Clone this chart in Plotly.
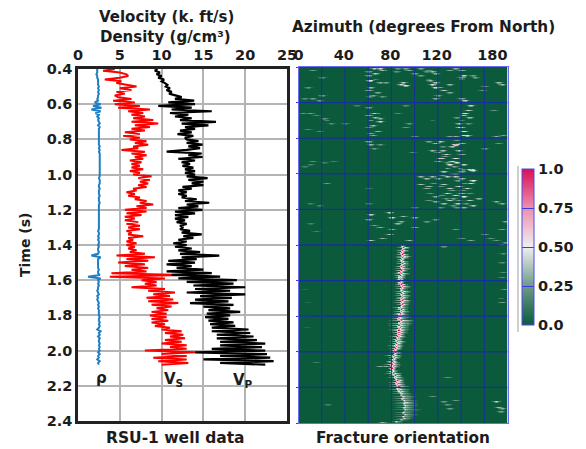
import numpy as np
import plotly.graph_objects as go

W, H = 586, 449
FONT = "'DejaVu Sans', sans-serif"
INK = "#1c1c1c"

# ---- well log samples, one value every 0.01 s from 0.40 s to 2.08 s
log_start, log_step = 0.40, 0.01
vp = [9.5,9.2,9.8,9.4,10.0,9.6,10.3,10.0,10.4,10.7,
      10.5,11.0,10.6,11.2,10.9,11.8,12.4,11.6,13.9,10.8,
      14.0,9.6,13.6,11.2,16.0,11.0,13.2,11.6,13.6,12.2,
      16.5,12.4,15.6,12.8,14.0,12.2,13.6,11.9,13.8,12.8,
      13.0,14.4,13.0,14.9,13.2,14.6,13.0,10.6,14.8,13.2,
      14.9,12.0,14.0,12.4,13.4,12.5,13.8,12.8,14.0,12.8,
      14.0,13.0,15.5,13.2,15.0,13.6,15.0,12.5,13.6,12.0,
      13.0,12.0,13.0,12.4,14.2,12.8,15.7,13.0,14.4,12.0,
      14.9,11.6,14.0,11.6,13.2,11.6,12.8,11.8,13.0,12.2,
      12.6,12.2,13.4,12.4,14.8,12.6,13.8,12.0,13.0,11.4,
      13.0,11.6,13.6,12.0,14.6,12.2,16.9,12.4,14.2,10.8,
      14.0,10.6,13.6,11.8,15.0,10.6,16.0,11.2,17.0,12.0,
      19.0,13.0,18.6,13.8,20.0,14.0,18.2,13.0,20.0,14.6,
      18.4,14.0,18.0,13.4,18.6,15.0,18.2,15.6,19.4,15.4,
      18.2,15.2,18.0,15.6,18.6,15.8,18.8,16.0,20.4,16.0,
      20.6,16.6,21.0,16.6,21.4,17.0,22.4,17.0,22.0,16.0,
      22.4,14.0,22.6,17.0,23.0,15.0,23.4,17.0,22.4]
vs = [4.4,3.0,5.0,5.8,6.0,5.0,3.2,5.2,4.6,5.8,
      7.0,5.0,6.4,4.6,5.6,4.4,4.8,6.4,4.2,6.8,
      4.4,7.4,4.8,8.6,6.0,7.8,6.4,8.0,6.6,9.0,
      6.4,9.6,6.8,8.6,6.4,8.0,5.6,7.4,5.4,7.4,
      6.2,8.2,6.8,8.4,6.6,7.2,5.2,8.0,6.4,8.2,
      6.8,7.8,6.2,7.6,6.4,7.4,6.4,7.8,6.2,7.4,
      6.6,8.8,7.2,8.6,7.4,8.4,7.2,8.2,6.6,7.0,
      5.8,6.8,6.0,7.4,6.8,8.2,7.4,9.0,7.0,8.2,
      5.6,8.2,5.8,7.6,5.6,6.8,5.6,7.2,5.8,7.4,
      6.0,7.4,5.8,6.4,6.0,7.8,6.0,6.6,5.8,7.0,
      5.8,6.8,6.0,7.0,6.2,8.0,4.6,9.2,5.8,8.4,
      4.8,8.0,5.6,8.4,6.4,8.2,4.0,12.4,3.8,10.4,
      7.6,9.4,8.0,9.4,6.4,10.4,8.4,11.6,9.0,11.0,
      8.2,11.4,8.4,12.0,8.8,11.2,9.4,10.8,8.8,10.6,
      8.6,10.6,8.8,10.8,8.8,10.4,9.2,11.0,10.0,12.4,
      10.4,12.6,11.0,12.8,10.4,12.4,10.0,13.0,11.0,13.0,
      8.0,14.0,10.0,13.0,9.0,13.0,9.6,13.2,10.0]
rho = [2.3,2.3,2.3,2.2,2.3,2.3,2.4,2.4,2.4,2.4,
       2.5,2.4,2.5,2.4,2.5,2.4,2.4,2.3,2.4,2.0,
       2.7,1.8,2.8,1.6,2.7,2.1,2.5,2.3,2.5,2.4,
       2.5,2.6,2.4,2.6,2.5,2.5,2.5,2.5,2.5,2.5,
       2.5,2.5,2.5,2.5,2.6,2.5,2.6,2.5,2.6,2.6,
       2.6,2.6,2.6,2.6,2.6,2.6,2.6,2.6,2.6,2.6,
       2.6,2.6,2.5,2.6,2.6,2.6,2.5,2.5,2.6,2.5,
       2.5,2.5,2.6,2.5,2.5,2.5,2.6,2.5,2.5,2.5,
       2.5,2.5,2.5,2.5,2.5,2.5,2.5,2.5,2.5,2.5,
       2.5,2.5,2.4,2.5,2.5,2.4,2.5,2.4,2.5,2.5,
       2.4,2.5,2.4,2.4,2.5,2.4,1.6,2.7,2.4,2.4,
       2.4,2.4,2.4,2.4,2.5,2.4,2.4,2.6,1.2,2.7,
       2.4,2.5,2.4,2.5,2.4,2.4,2.3,2.4,2.5,2.3,
       2.4,2.3,2.4,2.5,2.4,2.5,2.4,2.5,2.5,2.5,
       2.5,2.6,2.5,2.5,2.6,2.5,2.6,2.5,2.3,2.7,
       2.5,2.6,2.4,2.6,2.5,2.5,2.6,2.5,2.6,2.5,
       2.6,2.4,2.6,2.4,2.5,2.3,2.6,2.4,2.5]

# ---- fracture orientation: short bright streaks (azimuth, time, value)
top_left = [(12,.42,.3),(20,.46,.3),(8,.52,.3),(5,.58,.25),(12,.58,.3),(18,.59,.3),(20,.565,.35),
            (4,.66,.3),(10,.66,.35),(15,.67,.25),(22,.69,.3),(24,.70,.35),(8,.75,.25),(18,.76,.25),
            (28,.72,.25),(40,.72,.25),(50,.62,.2),(30,.93,.2),(15,.92,.25),(12,.93,.25),(22,.94,.2),
            (5,.96,.2),(10,.95,.2),(24,1.05,.3),(20,1.1,.3),(10,1.17,.2),(18,1.18,.2),(15,1.32,.2),(10,1.28,.2)]
band_60 = [(65,.41,.5),(70,.41,.6),(72,.42,.45),(60,.43,.4),(66,.44,.5),(60,.45,.45),(66,.47,.4),
           (61,.48,.7),(70,.49,.4),(75,.49,.35),(62,.52,.4),(60,.53,.5),(68,.54,.35),(64,.56,.35),
           (72,.57,.3),(61,.57,.3),(60,.63,.4),(62,.65,.55),(65,.66,.5),(68,.655,.4),(60,.67,.5),
           (66,.68,.45),(70,.69,.4),(62,.70,.5),(70,.71,.55),(64,.73,.45),(60,.74,.35),(68,.76,.4),
           (64,.78,.4),(62,.77,.35),(60,.82,.5),(62,.84,.4),(70,.84,.3),(65,.86,.3),(60,1.08,.2),
           (60,1.17,.25)]
band_90 = [(85,.41,.3),(92,.41,.35),(95,.42,.4),(84,.43,.3),(100,.44,.35),(105,.45,.3),(90,.49,.5),
           (88,.5,.55),(92,.505,.6),(105,.41,.35),(110,.43,.3),(112,.47,.3),(92,.62,.25),(85,.66,.25),
           (95,.72,.3),(92,.74,.3),(100,.79,.3),(115,.70,.25),(98,.88,.25),(100,1.19,.25)]
band_130 = [(112,.42,.3),(115,.43,.45),(118,.44,.4),(113,.48,.45),(118,.49,.5),(115,.5,.6),(118,.52,.6),
            (122,.515,.6),(125,.53,.5),(120,.56,.4),(118,.58,.4),(130,.42,.35),(135,.41,.4),(140,.42,.5),
            (140,.46,.45),(142,.45,.5),(130,.50,.4),(130,.54,.35),(140,.58,.45),(143,.59,.5),(130,.60,.35),
            (140,.47,.4),(152,.46,.35),(150,.45,.35),(158,.53,.3),(160,.51,.3),(172,.49,.45),(175,.5,.45),
            (148,.62,.5),(146,.64,.55),(143,.66,.6),(142,.67,.45),(147,.68,.45),(140,.70,.5),(138,.72,.5),
            (139,.74,.85),(142,.76,.65),(143,.78,.8),(145,.785,.6),(135,.79,.4),(130,.79,.35),(170,.79,.4),
            (176,.78,.35),(168,.64,.3),
            (112,.82,.35),(118,.83,.45),(122,.82,.5),(115,.87,.45),(120,.88,.4),(124,.87,.45),(132,.85,.5),
            (135,.84,.9),(140,.83,.55),(138,.87,.5),(127,.89,.55),(122,.91,.75),(128,.92,.6),(132,.93,.6),
            (120,.93,.5),(140,.89,.5),(135,.91,.6),(138,.92,.55),(130,.95,.6),(136,.94,.55),(142,.95,.5),
            (128,.97,.6),(139,.97,.6),(148,.98,.85),(150,.985,.6),(125,.99,.5),(135,1.0,.6),(140,.99,.5),
            (172,.83,.3),(160,.86,.3),
            (105,1.02,.4),(110,1.03,.45),(115,1.02,.45),(120,1.03,.45),(128,1.02,.5),(135,1.02,.5),(140,1.03,.55),
            (150,1.04,.7),(148,1.05,.5),(105,1.06,.45),(112,1.07,.45),(125,1.06,.5),(130,1.08,.5),(138,1.07,.6),
            (145,1.08,.55),(110,1.08,.4),(120,1.1,.45),(128,1.11,.55),(135,1.12,.55),(140,1.11,.55),(118,1.13,.4),
            (130,1.15,.5),(142,1.13,.6),(147,1.15,.5),(155,1.14,.4),(118,1.16,.4),(125,1.17,.45),(137,1.17,.5),
            (150,1.18,.5),(170,1.16,.4),(175,1.17,.4),(142,1.19,.4)]
band_faint = [(126,.90,.35),(134,.96,.35),(141,.98,.3),(132,1.0,.35),(124,1.01,.3),(137,1.04,.35),(143,1.05,.3),
              (116,1.05,.3),(122,1.07,.3),(132,1.09,.35),(141,1.09,.3),(147,1.11,.3),(113,1.11,.3),(123,1.12,.3),
              (133,1.14,.35),(138,1.15,.35),(112,1.15,.3),(127,1.14,.3),(144,1.17,.3),(133,1.18,.3),(122,1.19,.3),
              (136,1.19,.3),(128,.94,.3),(143,.92,.3),(124,.85,.25),(136,.81,.3),(146,.72,.3),(136,.68,.3)]
band_1300 = [(90,1.2,.4),(85,1.2,.4),(62,1.23,.5),(60,1.26,.45),(78,1.22,.5),(80,1.25,.55),(90,1.24,.45),
             (100,1.25,.4),(85,1.28,.45),(65,1.29,.35),(70,1.3,.4),(80,1.31,.4),(92,1.33,.5),(100,1.3,.4),
             (88,1.27,.4),(62,1.37,.45),(72,1.36,.4),(78,1.34,.45),(95,1.37,.45),(100,1.33,.35),(110,1.27,.3),
             (118,1.26,.3),(135,1.31,.3),(140,1.36,.35),(148,1.37,.35),(160,1.34,.35),(165,1.36,.3),(170,1.33,.4),
             (175,1.31,.35),(178,1.27,.35),(170,1.37,.3)]
lower = [(125,1.41,.3),(175,1.4,.4),(178,1.39,.3),(176,1.45,.25),(175,1.5,.25),(176,1.55,.25),(175,1.58,.25),
         (177,1.65,.3),(174,1.7,.3),(175,1.72,.35),(177,1.74,.3),(5,1.65,.08),(8,1.72,.08),(4,1.8,.08),(7,1.86,.08),
         (70,2.08,.4),(75,2.08,.4),(125,2.1,.3),(128,2.14,.3),(127,2.2,.35),(70,2.2,.25),(15,2.06,.2),(105,2.33,.3),
         (125,2.28,.3),(128,2.3,.3),(135,2.27,.3),(170,2.28,.5),(172,2.31,.45),(175,2.32,.4),(174,2.34,.35),
         (115,2.25,.3),(5,2.33,.2),(25,2.3,.2),(130,2.32,.3),(72,2.4,.4)]

# ---- the narrow fracture trend, one row every 0.01 s from 1.41 s to 2.40 s
spine_start = 1.41
spine_az = [89,90,89,89,88,89,90,89,88,89, 89,88,88,89,88,87,88,87,87,87,
            88,87,88,89,88,88,89,88,89,89, 88,89,88,89,88,87,88,88,87,87,
            87,86,88,87,87,86,87,86,86,86, 86,85,85,84,85,84,83,84,83,82,
            83,82,81,82,81,80,81,80,81,80, 81,80,81,83,83,84,85,84,85,86,
            85,86,87,88,88,90,89,91,92,91, 92,91,92,91,90,92,90,91,88,84]
spine_v = [.9,1,.75,.95,.85,1,.8,.95,.9,.75, 1,.85,.95,.7,1,.85,.9,1,.75,.9,
           .95,.8,1,.85,.75,.95,.9,1,.8,.9, .85,1,.75,.95,.9,.8,1,.85,.95,.8,
           1,.75,.9,1,.8,.95,.85,.75,1,.9, .85,1,.8,.95,.9,1,.75,.9,1,.85,
           .95,.8,1,.9,.75,1,.85,.95,.8,1, .9,.75,.95,1,.8,.9,1,.85,.8,.95,
           .85,.7,.8,.6,.7,.55,.65,.5,.6,.55, .5,.6,.45,.55,.5,.45,.5,.45,.4,.45]
spine_side = [1,2,1,2,1,2,3,2,1,2, 2,3,2,3,2,1,3,2,2,1,
              2,1,2,3,2,2,3,2,3,2, 2,3,3,2,2,3,2,3,2,3,
              4,3,5,4,5,4,3,4,3,3, 2,3,2,2,3,2,3,2,2,1,
              2,1,3,2,1,2,2,3,2,1, 2,2,3,2,3,3,2,3,3,4,
              3,4,3,4,4,5,4,5,4,5, 5,4,6,5,4,5,4,3,3,2]

DT = 0.005
row_times = np.arange(0.4025, 2.4, DT)
col_az = np.arange(0.5, 180, 1)
z = np.zeros((len(row_times), len(col_az)))

def put(t, az, v):
    r = int(round((t - 0.4025) / DT))
    c = int(az // 1)
    if 0 <= r < len(row_times) and 0 <= c < len(col_az):
        z[r, c] = max(z[r, c], v)

for group in (top_left, band_60, band_90, band_130, band_faint, band_1300, lower):
    for az, t, v in group:
        v = v * .85
        put(t, az, v)
        for k, f in ((1, .85), (2, .6), (3, .35), (4, .15)):
            put(t, az - k, v * f)
            put(t, az + k, v * f)
        put(t + DT, az, v * .6)
        put(t + DT, az + 1, v * .5)
        put(t + DT, az - 1, v * .5)
        put(t + DT, az + 2, v * .25)
        put(t + DT, az - 2, v * .25)

for i, (az, v, s) in enumerate(zip(spine_az, spine_v, spine_side)):
    t = spine_start + i * 0.01 - 0.0075
    for dt, f in ((0, 1.0), (DT, .55)):
        put(t + dt, az, v * f)
        put(t + dt, az - 1, v * f * .7)
        put(t + dt, az + 1, v * f * .7)
    for k in range(1, 2 * s + 1):
        fade = 1 - k / (2 * s + 1)
        put(t, az + 1 + k, v * .6 * fade)
        put(t, az - 1 - k, v * .42 * fade)
        put(t + DT, az + 1 + k, v * .3 * fade)

log_t = [log_start + i * log_step for i in range(len(vp))]

colorscale = [[0, "#0b5a3b"], [.25, "#6f9a89"], [.5, "#efefef"], [.75, "#ec8fae"], [1, "#d80f55"]]

fig = go.Figure()
fig.add_trace(go.Scatter(x=rho, y=log_t, mode="lines", line=dict(color="#1f7fc4", width=2), xaxis="x", yaxis="y", showlegend=False))
fig.add_trace(go.Scatter(x=vs, y=log_t, mode="lines", line=dict(color="#ff0000", width=2), xaxis="x", yaxis="y", showlegend=False))
fig.add_trace(go.Scatter(x=vp, y=log_t, mode="lines", line=dict(color="#000000", width=2.2), xaxis="x", yaxis="y", showlegend=False))
fig.add_trace(go.Heatmap(
    x=col_az, y=row_times, z=z, zmin=0, zmax=1, colorscale=colorscale, xaxis="x2", yaxis="y2",
    colorbar=dict(lenmode="pixels", len=156, thicknessmode="pixels", thickness=12,
                  x=522 / W, xanchor="left", y=1 - 169 / H, yanchor="top", xpad=0, ypad=0,
                  outlinecolor="#4a4af0", outlinewidth=1, tickvals=[0, .25, .5, .75, 1],
                  ticktext=["0.0", "0.25", "0.50", "0.75", "1.0"], ticks="inside", ticklen=12,
                  tickcolor="#3a3ae0", tickwidth=1,
                  tickfont=dict(family=FONT, size=14.5, color=INK, weight="bold")),
))

tickfont = dict(family=FONT, size=14.5, color=INK, weight="bold")
y_ticks = [0.4, 0.6, 0.8, 1.0, 1.2, 1.4, 1.6, 1.8, 2.0, 2.2, 2.4]
fig.update_layout(
    width=W, height=H, margin=dict(l=0, r=0, t=0, b=0, autoexpand=False), paper_bgcolor="white", plot_bgcolor="white",
    font=dict(family=FONT),
    xaxis=dict(domain=[78 / W, 287 / W], range=[0, 25], side="top", anchor="y", tickvals=[0, 5, 10, 15, 20, 25],
               showgrid=True, gridcolor="#b4b4b4", gridwidth=1.5, tickfont=tickfont, ticks="",
               showline=True, mirror=True, linecolor="#222222", linewidth=2.5, zeroline=False),
    yaxis=dict(domain=[1 - 421 / H, 1 - 69 / H], range=[2.4, 0.4], anchor="x", tickvals=y_ticks,
               ticktext=[f"{v:.1f}" for v in y_ticks], showgrid=True, gridcolor="#b4b4b4", gridwidth=1.5,
               tickfont=tickfont, ticks="", showline=True, mirror=True, linecolor="#222222", linewidth=2.5,
               zeroline=False),
    xaxis2=dict(domain=[298.5 / W, 507.5 / W], range=[0, 180], side="top", anchor="y2",
                tickvals=[0, 39, 79, 119, 167], ticktext=["0", "40", "80", "120", "180"],
                showgrid=False, tickfont=tickfont, ticks="", showline=True, mirror=True,
                linecolor="#6a6af5", linewidth=1, zeroline=False),
    yaxis2=dict(domain=[1 - 423 / H, 1 - 67 / H], range=[2.4, 0.4], anchor="x2", tickvals=y_ticks,
                showticklabels=False, ticks="outside", ticklen=2, tickcolor="#3a3ae0", showgrid=False,
                showline=True, mirror=True, linecolor="#6a6af5", linewidth=1, zeroline=False),
)

# grid drawn over the heat map
az_grid = [20, 40, 60, 80, 100, 120, 140, 160]
t_grid = [0.6, 0.8, 1.0, 1.2, 1.4, 1.6, 1.8, 2.0, 2.2]
GRID = "#15309a"
for a in az_grid:
    fig.add_shape(type="line", xref="x2", yref="y2", x0=a, x1=a, y0=0.4, y1=2.4, line=dict(color=GRID, width=1))
for t in t_grid:
    fig.add_shape(type="line", xref="x2", yref="y2", x0=0, x1=180, y0=t, y1=t, line=dict(color=GRID, width=1.3))
fig.add_shape(type="line", xref="paper", yref="paper", x0=518 / W, x1=518 / W, y0=1 - 166 / H, y1=1 - 332 / H,
              line=dict(color="#cfcfcf", width=2))

def label(text, px, py, size=14.5, angle=0):
    fig.add_annotation(text=text, x=px / W, y=1 - py / H, xref="paper", yref="paper", showarrow=False,
                       xanchor="center", yanchor="middle", textangle=angle,
                       font=dict(family=FONT, size=size, color=INK, weight="bold"))

label("Velocity (k. ft/s)", 166, 17, 15)
label("Density (g/cm³)", 165, 37, 15)
label("Azimuth (degrees From North)", 423, 27, 15.3)
label("RSU-1 well data", 175, 438, 15.5)
label("Fracture orientation", 403, 438, 15.3)
label("Time (s)", 25, 245, 14, -90)
label("ρ", 101, 378, 15)
label("V<sub>S</sub>", 173, 379, 15)
label("V<sub>P</sub>", 243, 380, 15)

fig.write_html("out.html", config={"displayModeBar": False},
               post_script="document.body.style.margin='0';document.documentElement.style.overflow='hidden';")
